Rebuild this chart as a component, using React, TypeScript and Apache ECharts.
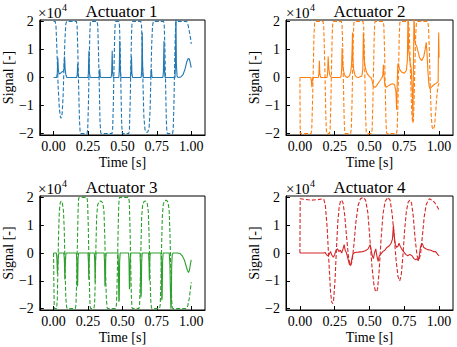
import React, { useEffect, useRef } from 'react';
import * as echarts from 'echarts';

const SCALE = 1e4;
const TIME_TICKS = [0, 0.25, 0.5, 0.75, 1.0];
const SIGNAL_TICKS = [-2, -1, 0, 1, 2];
const TITLES = ['Actuator 1', 'Actuator 2', 'Actuator 3', 'Actuator 4'];
const COLORS = ['#1f77b4', '#ff7f0e', '#2ca02c', '#d62728'];

// [time s, signal x1e4] — dashed (command) and solid (response)
const act1Cmd: [number, number][] = [
  [0, 2.0], [0.012, 2.0], [0.018, 1.8], [0.025, 0.9], [0.033, -0.3], [0.042, -1.1], [0.05, -1.42], [0.056, -1.45], [0.062, -1.3], [0.069, -0.7], [0.076, 0.4], [0.083, 1.4], [0.089, 1.9], [0.095, 2.0],
  [0.166, 2.0], [0.171, 1.85], [0.176, 1.0], [0.182, -0.3], [0.188, -1.5], [0.193, -1.95], [0.197, -2.0],
  [0.243, -2.0], [0.248, -1.85], [0.253, -1.0], [0.258, 0.3], [0.263, 1.5], [0.267, 1.95], [0.271, 2.0],
  [0.316, 2.0], [0.321, 1.85], [0.326, 1.0], [0.332, -0.3], [0.337, -1.5], [0.342, -1.95], [0.346, -2.0],
  [0.424, -2.0], [0.429, -1.85], [0.434, -1.0], [0.439, 0.3], [0.444, 1.5], [0.448, 1.95], [0.452, 2.0],
  [0.474, 2.0], [0.479, 1.85], [0.484, 1.0], [0.489, -0.3], [0.494, -1.5], [0.498, -1.95], [0.502, -2.0],
  [0.546, -2.0], [0.551, -1.85], [0.556, -1.0], [0.561, 0.3], [0.566, 1.5], [0.57, 1.95], [0.574, 2.0],
  [0.634, 2.0], [0.639, 1.85], [0.644, 1.0], [0.65, -0.3], [0.656, -1.4], [0.664, -1.85], [0.674, -1.95], [0.684, -1.95], [0.694, -1.8], [0.701, -1.2], [0.707, 0.0], [0.713, 1.2], [0.719, 1.85], [0.725, 2.0],
  [0.799, 2.0], [0.804, 1.85], [0.809, 1.0], [0.814, -0.3], [0.819, -1.5], [0.823, -1.95], [0.827, -2.0],
  [0.864, -2.0], [0.869, -1.85], [0.874, -1.0], [0.879, 0.3], [0.884, 1.5], [0.888, 1.95], [0.892, 2.0],
  [0.968, 2.0], [0.978, 1.85], [0.988, 1.6], [0.995, 1.4], [1.0, 1.2],
];
const act1Out: [number, number][] = [
  [0, 0], [0.022, 0], [0.027, 0.15], [0.031, 0.7], [0.035, 0.25], [0.04, 0.12], [0.05, 0.15], [0.06, 0.2], [0.07, 0.22], [0.076, 0.3], [0.08, 0.75], [0.084, 0.3], [0.09, 0.08], [0.097, 0],
  [0.168, 0], [0.172, 0.1], [0.175, 0.5], [0.178, 0.1], [0.183, 0],
  [0.25, 0], [0.253, 0.15], [0.257, 0.95], [0.26, 0.2], [0.265, 0.02], [0.27, 0],
  [0.33, 0], [0.333, 0.1], [0.336, 0.3], [0.339, 0.05], [0.343, 0],
  [0.418, 0], [0.422, 0.15], [0.426, 0.95], [0.429, 0.2], [0.434, 0],
  [0.474, 0], [0.477, 0.2], [0.481, 1.3], [0.484, 0.3], [0.489, 0],
  [0.558, 0], [0.562, 0.15], [0.566, 0.75], [0.569, 0.15], [0.574, 0],
  [0.636, 0], [0.64, 0.2], [0.644, 1.6], [0.647, 0.35], [0.652, 0],
  [0.704, 0], [0.708, 0.1], [0.711, 0.3], [0.714, 0.05], [0.718, 0],
  [0.794, 0], [0.798, 0.2], [0.802, 1.3], [0.805, 0.3], [0.81, 0],
  [0.882, 0], [0.885, 0.4], [0.889, 2.3], [0.892, 0.5], [0.897, 0.05], [0.905, 0],
  [0.925, 0.02], [0.94, 0.1], [0.955, 0.3], [0.967, 0.55], [0.978, 0.68], [0.986, 0.66], [0.993, 0.52], [1.0, 0.35],
];

const act2Cmd: [number, number][] = [
  [0, 0], [0.002, -2.0], [0.08, -2.0], [0.085, -1.85], [0.09, -1.0], [0.096, 0.3], [0.101, 1.5], [0.106, 1.95], [0.11, 2.0],
  [0.166, 2.0], [0.171, 1.85], [0.176, 1.0], [0.182, -0.3], [0.187, -1.5], [0.191, -1.95], [0.195, -2.0],
  [0.212, -2.0], [0.217, -1.85], [0.222, -1.0], [0.227, 0.3], [0.232, 1.5], [0.236, 1.95], [0.24, 2.0],
  [0.298, 2.0], [0.303, 1.85], [0.308, 1.0], [0.313, -0.3], [0.318, -1.5], [0.322, -1.95], [0.326, -2.0],
  [0.364, -2.0], [0.369, -1.85], [0.374, -1.0], [0.379, 0.3], [0.384, 1.5], [0.388, 1.95], [0.392, 2.0],
  [0.453, 2.0], [0.458, 1.85], [0.463, 1.0], [0.468, -0.3], [0.473, -1.5], [0.477, -1.95], [0.481, -2.0],
  [0.514, -2.0], [0.519, -1.85], [0.524, -1.0], [0.529, 0.3], [0.534, 1.5], [0.538, 1.95], [0.542, 2.0],
  [0.598, 2.0], [0.603, 1.85], [0.608, 1.0], [0.613, -0.3], [0.618, -1.5], [0.622, -1.95], [0.626, -2.0],
  [0.694, -2.0], [0.699, -1.85], [0.704, -1.0], [0.709, 0.3], [0.714, 1.5], [0.718, 1.95], [0.722, 2.0],
  [0.778, 2.0], [0.784, 1.8], [0.79, 1.0], [0.797, -0.3], [0.804, -1.3], [0.81, -1.62], [0.815, -1.55], [0.82, -0.9], [0.826, 0.4], [0.832, 1.5], [0.837, 1.95], [0.842, 2.0],
  [0.918, 2.0], [0.924, 1.8], [0.93, 1.0], [0.937, -0.4], [0.944, -1.4], [0.951, -1.8], [0.96, -1.85], [0.968, -1.7], [0.976, -1.2], [0.985, -0.6], [0.993, -0.3], [1.0, -0.2],
];
const act2Out: [number, number][] = [
  [0, 0], [0.078, 0], [0.082, -0.1], [0.086, -0.35], [0.09, -0.05], [0.095, 0],
  [0.132, 0], [0.136, 0.1], [0.14, 0.6], [0.143, 0.15], [0.148, 0.02], [0.155, 0],
  [0.195, 0], [0.199, 0.15], [0.203, 0.75], [0.207, 0.35], [0.213, 0.12], [0.22, 0.03], [0.228, 0],
  [0.29, 0], [0.296, 0.05], [0.3, 0.3], [0.303, 1.05], [0.307, 0.5], [0.313, 0.25], [0.32, 0.1], [0.33, 0.03], [0.34, 0],
  [0.355, 0.05], [0.365, 0.2], [0.371, 0.45], [0.375, 1.0], [0.378, 1.6], [0.381, 0.6], [0.387, 0.25], [0.395, 0.1], [0.405, 0.02], [0.42, 0],
  [0.445, 0.05], [0.452, 0.3], [0.456, 1.6], [0.46, 0.8], [0.466, 0.45], [0.475, 0.25], [0.485, 0.12], [0.5, 0.03], [0.51, 0],
  [0.515, -0.05], [0.52, -0.15], [0.528, -0.32], [0.54, -0.35], [0.55, -0.3], [0.56, -0.22], [0.57, -0.15], [0.58, -0.08], [0.59, 0], [0.596, 0.1], [0.6, 0.45], [0.604, 0.1],
  [0.61, -0.25], [0.62, -0.35], [0.635, -0.3], [0.65, -0.25], [0.665, -0.22], [0.68, -0.25], [0.69, -0.5], [0.695, -1.15], [0.699, -0.3], [0.703, 0.45], [0.707, 0.5], [0.715, 0.3], [0.73, 0.2], [0.75, 0.15],
  [0.765, 0.25], [0.772, 0.6], [0.777, 2.4], [0.781, 1.0], [0.79, 0.6], [0.8, 0.3], [0.808, -0.6], [0.812, -1.55], [0.816, 0.5], [0.82, 2.4], [0.824, 1.4], [0.83, 1.2],
  [0.84, 1.1], [0.86, 0.7], [0.875, 0.6], [0.89, 0.75], [0.9, 1.0], [0.908, 1.25], [0.913, 0.9], [0.92, 0.2], [0.928, -0.3], [0.935, -0.4],
  [0.95, -0.32], [0.965, -0.25], [0.98, -0.2], [0.993, -0.15], [0.997, 1.6], [1.0, 0.7],
];

const act3Cmd: [number, number][] = [
  [0, 0], [0.002, -1.0], [0.005, -2.0], [0.022, -2.0], [0.027, -1.7], [0.032, -0.5], [0.037, 0.8], [0.042, 1.5], [0.048, 1.8], [0.056, 1.87], [0.064, 1.8], [0.072, 1.5], [0.078, 0.8], [0.083, -0.5], [0.089, -1.6], [0.095, -1.95], [0.1, -2.0],
  [0.158, -2.0], [0.163, -1.85], [0.168, -1.0], [0.173, 0.3], [0.178, 1.5], [0.182, 1.95], [0.186, 2.0],
  [0.242, 2.0], [0.247, 1.85], [0.252, 1.0], [0.257, -0.3], [0.262, -1.5], [0.266, -1.95], [0.27, -2.0],
  [0.293, -2.0], [0.298, -1.85], [0.303, -1.0], [0.308, 0.3], [0.313, 1.3], [0.32, 1.72], [0.33, 1.85], [0.345, 1.87], [0.358, 1.8], [0.366, 1.5], [0.372, 0.6], [0.378, -0.7], [0.384, -1.7], [0.389, -1.97], [0.394, -2.0],
  [0.452, -2.0], [0.457, -1.85], [0.462, -1.0], [0.467, 0.3], [0.472, 1.5], [0.476, 1.95], [0.48, 2.0],
  [0.545, 2.0], [0.55, 1.85], [0.555, 1.0], [0.56, -0.3], [0.565, -1.5], [0.569, -1.95], [0.573, -2.0],
  [0.62, -2.0], [0.625, -1.85], [0.63, -1.0], [0.635, 0.3], [0.64, 1.3], [0.647, 1.72], [0.657, 1.85], [0.668, 1.87], [0.68, 1.8], [0.688, 1.5], [0.694, 0.6], [0.7, -0.7], [0.706, -1.7], [0.711, -1.97], [0.716, -2.0],
  [0.77, -2.0], [0.775, -1.85], [0.78, -1.0], [0.785, 0.3], [0.79, 1.3], [0.797, 1.75], [0.807, 1.88], [0.82, 1.9], [0.832, 1.82], [0.84, 1.5], [0.846, 0.6], [0.852, -0.7], [0.858, -1.7], [0.863, -1.97], [0.868, -2.0],
  [0.965, -2.0], [0.975, -1.9], [0.985, -1.65], [0.993, -1.35], [1.0, -1.05],
];
const act3Out: [number, number][] = [
  [0, 0], [0.02, 0], [0.024, -0.2], [0.028, -0.75], [0.032, -0.3], [0.036, -0.05], [0.04, 0],
  [0.074, 0], [0.078, -0.2], [0.082, -0.95], [0.086, -0.3], [0.09, 0],
  [0.166, 0], [0.169, -0.3], [0.172, -1.2], [0.175, -1.15], [0.178, -0.2], [0.182, 0],
  [0.25, 0], [0.253, -0.3], [0.256, -0.95], [0.259, -0.2], [0.263, 0],
  [0.296, 0], [0.299, -0.3], [0.302, -1.05], [0.305, -0.2], [0.309, 0],
  [0.367, 0], [0.37, -0.3], [0.373, -1.2], [0.376, -1.1], [0.379, -0.2], [0.383, 0],
  [0.468, 0], [0.471, -0.4], [0.474, -1.75], [0.477, -1.7], [0.48, -0.3], [0.484, 0],
  [0.545, 0], [0.548, -0.3], [0.551, -1.3], [0.554, -1.2], [0.557, -0.2], [0.561, 0],
  [0.628, 0], [0.631, -0.4], [0.634, -1.6], [0.637, -1.5], [0.64, -0.3], [0.644, 0],
  [0.69, 0], [0.693, -0.3], [0.696, -1.0], [0.699, -0.2], [0.703, 0],
  [0.78, 0], [0.783, -0.4], [0.786, -1.7], [0.789, -1.6], [0.792, -0.3], [0.796, 0],
  [0.84, 0], [0.845, -0.4], [0.849, -1.4], [0.852, -2.0], [0.855, -1.9], [0.858, -0.5], [0.862, -0.05], [0.868, 0],
  [0.9, 0], [0.92, -0.02], [0.935, -0.1], [0.95, -0.25], [0.962, -0.45], [0.972, -0.62], [0.98, -0.7], [0.987, -0.62], [0.994, -0.4], [1.0, -0.25],
];

const act4Cmd: [number, number][] = [
  [0, 0], [0.002, 1.95], [0.03, 1.93], [0.08, 1.9], [0.13, 1.92], [0.165, 1.95],
  [0.172, 1.93], [0.183, 1.7], [0.196, 0.9], [0.209, -0.4], [0.22, -1.4], [0.228, -1.75], [0.235, -1.82],
  [0.242, -1.7], [0.252, -1.0], [0.262, 0.1], [0.272, 1.1], [0.282, 1.65], [0.292, 1.87], [0.3, 1.9],
  [0.31, 1.8], [0.322, 1.35], [0.335, 0.6], [0.347, -0.05], [0.357, -0.38], [0.365, -0.45],
  [0.375, -0.3], [0.388, 0.3], [0.402, 1.1], [0.418, 1.7], [0.435, 1.95], [0.456, 2.0],
  [0.472, 1.9], [0.488, 1.45], [0.503, 0.5], [0.518, -0.5], [0.532, -1.15], [0.542, -1.35], [0.55, -1.4],
  [0.558, -1.3], [0.57, -0.6], [0.583, 0.5], [0.597, 1.4], [0.612, 1.85], [0.632, 2.0],
  [0.648, 1.9], [0.663, 1.4], [0.677, 0.6], [0.692, -0.3], [0.705, -0.85], [0.717, -1.0],
  [0.728, -0.8], [0.74, -0.1], [0.752, 0.8], [0.765, 1.5], [0.778, 1.83], [0.79, 1.9],
  [0.802, 1.8], [0.815, 1.3], [0.828, 0.5], [0.842, -0.1], [0.855, -0.25],
  [0.867, -0.05], [0.88, 0.6], [0.893, 1.3], [0.908, 1.75], [0.93, 1.95],
  [0.95, 1.9], [0.97, 1.8], [0.985, 1.68], [1.0, 1.55],
];
const act4Out: [number, number][] = [
  [0, 0], [0.17, 0], [0.18, 0.02], [0.19, -0.05], [0.2, -0.1], [0.21, -0.05], [0.22, 0.05], [0.23, -0.08], [0.24, -0.15], [0.25, -0.05], [0.26, 0.1], [0.27, 0.15], [0.28, 0.05], [0.29, 0.1], [0.3, 0.0],
  [0.31, 0.15], [0.318, 0.3], [0.325, 0.1], [0.335, 0.0], [0.345, -0.2], [0.355, -0.4], [0.363, -0.45], [0.37, -0.3], [0.38, -0.05], [0.395, 0.02], [0.42, 0.03], [0.45, 0.05], [0.47, 0.08], [0.49, 0.15],
  [0.505, 0.3], [0.512, 0.1], [0.52, -0.1], [0.528, -0.2], [0.536, 0.0], [0.545, 0.15], [0.553, -0.1], [0.562, -0.3], [0.57, -0.1], [0.58, -0.05], [0.595, 0.05], [0.61, 0.1], [0.625, 0.2], [0.64, 0.25],
  [0.655, 0.35], [0.665, 0.5], [0.672, 1.0], [0.678, 0.6], [0.686, 0.3], [0.695, 0.2], [0.705, 0.25], [0.712, 0.35], [0.72, 0.25], [0.73, 0.15], [0.745, 0.05], [0.76, -0.05], [0.775, -0.1], [0.79, -0.05],
  [0.805, -0.1], [0.82, -0.2], [0.832, -0.25], [0.842, -0.2], [0.85, -0.28], [0.858, -0.1], [0.866, 0.2], [0.875, 0.35], [0.882, 0.3], [0.89, 0.2], [0.905, 0.15], [0.92, 0.12], [0.94, 0.1], [0.96, 0.05],
  [0.975, 0.05], [0.99, -0.05], [1.0, -0.1],
];

const CMD = [act1Cmd, act2Cmd, act3Cmd, act4Cmd];
const OUT = [act1Out, act2Out, act3Out, act4Out];

const FONT = 'Liberation Serif, DejaVu Serif, serif';
const GRIDS = [
  { left: 38, top: 20, height: 115 },
  { left: 286, top: 20, height: 115 },
  { left: 38, top: 196, height: 114 },
  { left: 286, top: 196, height: 114 },
];
const GRID_W = 167;

const fmtSignal = (v: number) => {
  const s = Math.round(v / SCALE);
  if (s === 0) return '0';
  return s < 0 ? '\u2212' + Math.abs(s) : String(s);
};

export default function App() {
  const ref = useRef<HTMLDivElement>(null);
  useEffect(() => {
    if (!ref.current) return;
    const chart = echarts.init(ref.current, undefined, { renderer: 'svg' });
    const textStyle = { fontFamily: FONT, color: '#000' };
    const graphics: any[] = [];
    GRIDS.forEach((g, i) => {
      graphics.push({
        type: 'text',
        x: g.left + GRID_W / 2,
        y: g.top - 9,
        style: { text: TITLES[i], fontFamily: FONT, fontSize: 17, fill: '#000', textAlign: 'center', textVerticalAlign: 'middle', align: 'center', verticalAlign: 'middle' },
      });
      graphics.push({
        type: 'text',
        x: g.left,
        y: g.top - 7,
        style: { text: '\u00d710', fontFamily: FONT, fontSize: 15, fill: '#000', textAlign: 'left', textVerticalAlign: 'middle', align: 'left', verticalAlign: 'middle' },
      });
      graphics.push({
        type: 'text',
        x: g.left + 24,
        y: g.top - 13,
        style: { text: '4', fontFamily: FONT, fontSize: 10, fill: '#000', textAlign: 'left', textVerticalAlign: 'middle', align: 'left', verticalAlign: 'middle' },
      });
    });
    const option: any = {
      animation: false,
      backgroundColor: '#fff',
      textStyle: { fontFamily: FONT },
      grid: GRIDS.map((g) => ({
        left: g.left, top: g.top, width: GRID_W, height: g.height,
        show: true, borderColor: '#000', borderWidth: 1, backgroundColor: 'transparent',
      })),
      xAxis: GRIDS.map((_, i) => ({
        type: 'value', gridIndex: i, min: -0.1, max: 1.1,
        axisLine: { show: true, onZero: false, lineStyle: { color: '#000', width: 1 } },
        axisTick: { show: true, inside: true, length: 4, customValues: TIME_TICKS, lineStyle: { color: '#000', width: 1 } },
        axisLabel: { customValues: TIME_TICKS, formatter: (v: number) => v.toFixed(2), fontSize: 14, margin: 4, ...textStyle },
        splitLine: { show: false },
        name: 'Time [s]', nameLocation: 'middle', nameGap: 20,
        nameTextStyle: { fontSize: 14, ...textStyle },
      })),
      yAxis: GRIDS.map((_, i) => ({
        type: 'value', gridIndex: i, min: -2.05 * SCALE, max: 2.05 * SCALE,
        axisLine: { show: true, onZero: false, lineStyle: { color: '#000', width: 1 } },
        axisTick: { show: true, inside: true, length: 4, customValues: SIGNAL_TICKS.map((v) => v * SCALE), lineStyle: { color: '#000', width: 1 } },
        axisLabel: { customValues: SIGNAL_TICKS.map((v) => v * SCALE), formatter: fmtSignal, fontSize: 14, margin: 6, ...textStyle },
        splitLine: { show: false },
        name: 'Signal [-]', nameLocation: 'middle', nameRotate: 90, nameGap: 22,
        nameTextStyle: { fontSize: 14, ...textStyle },
      })),
      series: GRIDS.flatMap((_, i) => [
        {
          type: 'line', xAxisIndex: i, yAxisIndex: i, symbol: 'none', silent: true,
          data: CMD[i].map(([t, v]) => [t, v * SCALE]),
          lineStyle: { color: COLORS[i], width: 1.1, type: [4, 2] },
        },
        {
          type: 'line', xAxisIndex: i, yAxisIndex: i, symbol: 'none', silent: true,
          data: OUT[i].map(([t, v]) => [t, v * SCALE]),
          lineStyle: { color: COLORS[i], width: 1.1 },
        },
      ]),
      graphic: graphics,
    };
    chart.setOption(option);
    return () => chart.dispose();
  }, []);
  return <div ref={ref} style={{ position: 'absolute', left: 0, top: 0, width: 457, height: 347 }} />;
}
